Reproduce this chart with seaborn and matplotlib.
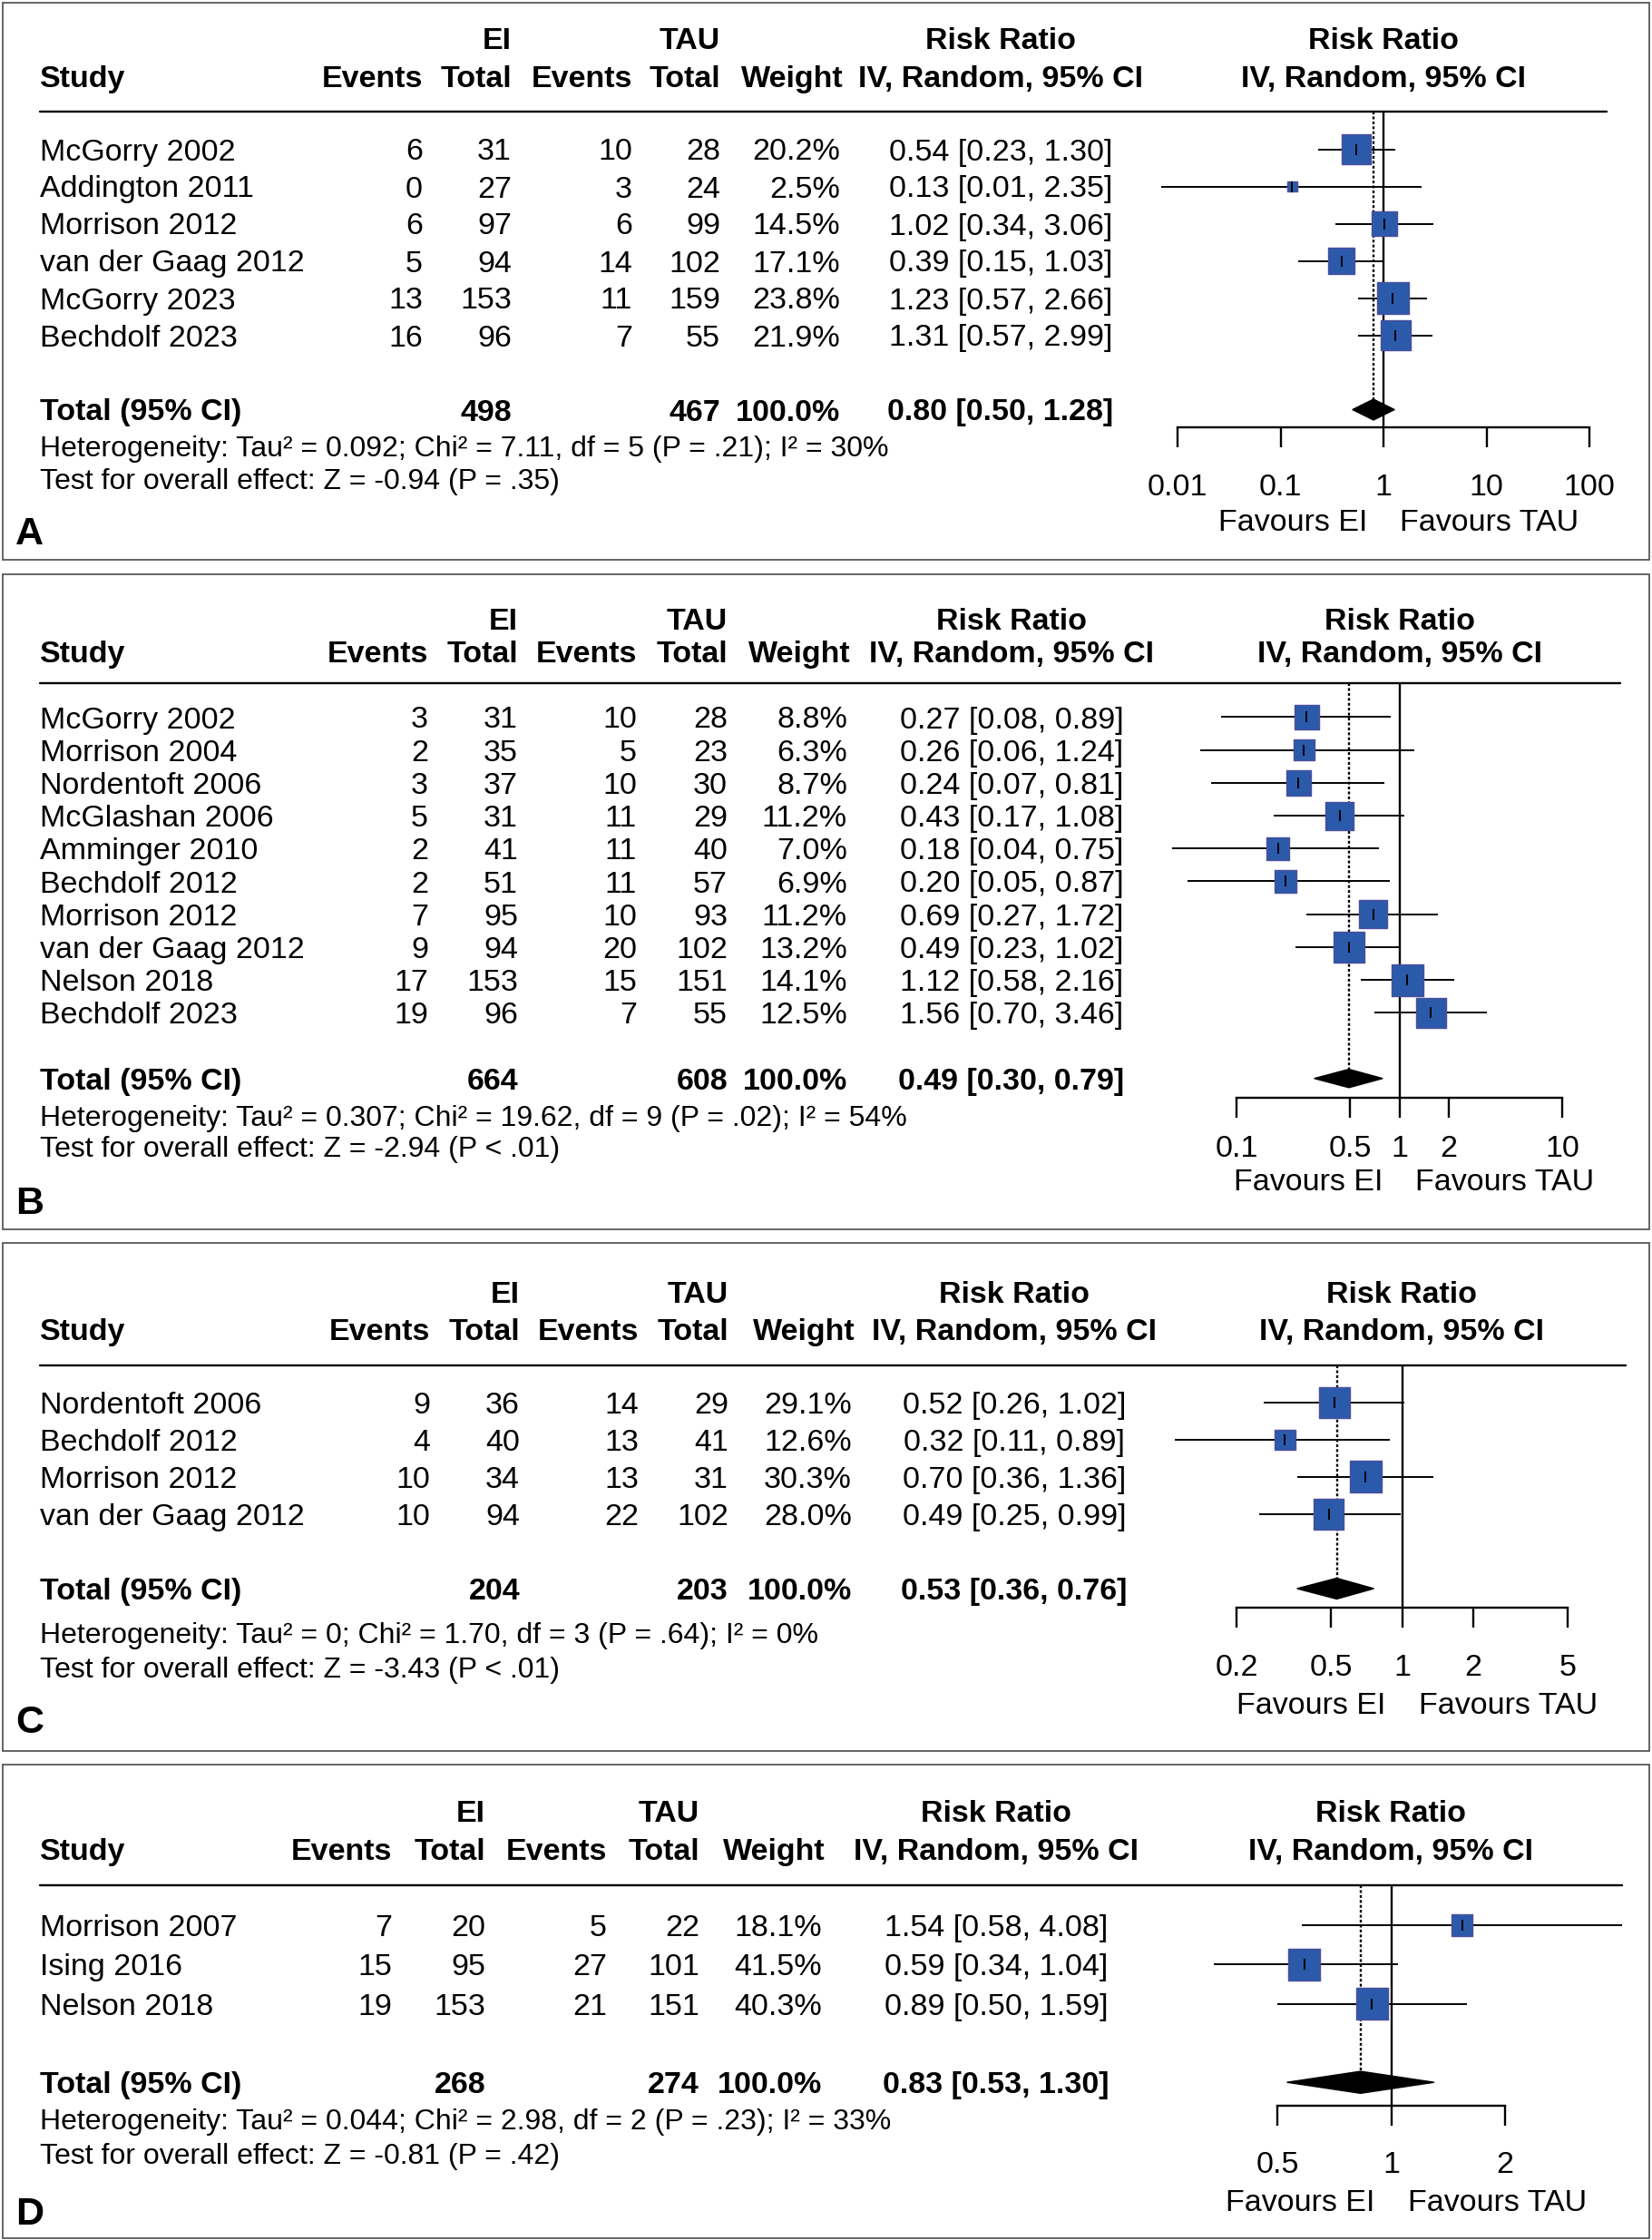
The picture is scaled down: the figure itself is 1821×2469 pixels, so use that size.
import numpy as np
import seaborn as sns
import matplotlib.pyplot as plt
from matplotlib import transforms
from matplotlib.patches import Rectangle
from matplotlib.lines import Line2D
from matplotlib.ticker import NullLocator

sns.set_style("white")
plt.rcParams["font.family"] = ["Liberation Sans", "DejaVu Sans"]

W, H, DPI = 1821, 2469, 100
FS = 24.5
TXT_DY = 3.5  # small downward nudge so glyph centres sit on the row

# ---------------- data ----------------
a_study = ["McGorry 2002", "Addington 2011", "Morrison 2012", "van der Gaag 2012",
           "McGorry 2023", "Bechdolf 2023"]
a_ev_ei = [6, 0, 6, 5, 13, 16]
a_n_ei = [31, 27, 97, 94, 153, 96]
a_ev_tau = [10, 3, 6, 14, 11, 7]
a_n_tau = [28, 24, 99, 102, 159, 55]
a_weight = [20.2, 2.5, 14.5, 17.1, 23.8, 21.9]
a_rr = [0.54, 0.13, 1.02, 0.39, 1.23, 1.31]
a_lo = [0.23, 0.007, 0.34, 0.15, 0.57, 0.57]
a_hi = [1.30, 2.35, 3.06, 1.03, 2.66, 2.99]
a_total = [0.80, 0.50, 1.28]
a_sums = [498, 467]
a_het = "Heterogeneity: Tau² = 0.092; Chi² = 7.11, df = 5 (P = .21); I² = 30%"
a_test = "Test for overall effect: Z = -0.94 (P = .35)"
a_ticks = [0.01, 0.1, 1, 10, 100]

b_study = ["McGorry 2002", "Morrison 2004", "Nordentoft 2006", "McGlashan 2006",
           "Amminger 2010", "Bechdolf 2012", "Morrison 2012", "van der Gaag 2012",
           "Nelson 2018", "Bechdolf 2023"]
b_ev_ei = [3, 2, 3, 5, 2, 2, 7, 9, 17, 19]
b_n_ei = [31, 35, 37, 31, 41, 51, 95, 94, 153, 96]
b_ev_tau = [10, 5, 10, 11, 11, 11, 10, 20, 15, 7]
b_n_tau = [28, 23, 30, 29, 40, 57, 93, 102, 151, 55]
b_weight = [8.8, 6.3, 8.7, 11.2, 7.0, 6.9, 11.2, 13.2, 14.1, 12.5]
b_rr = [0.27, 0.26, 0.24, 0.43, 0.18, 0.20, 0.69, 0.49, 1.12, 1.56]
b_lo = [0.08, 0.06, 0.07, 0.17, 0.04, 0.05, 0.27, 0.23, 0.58, 0.70]
b_hi = [0.89, 1.24, 0.81, 1.08, 0.75, 0.87, 1.72, 1.02, 2.16, 3.46]
b_total = [0.49, 0.30, 0.79]
b_sums = [664, 608]
b_het = "Heterogeneity: Tau² = 0.307; Chi² = 19.62, df = 9 (P = .02); I² = 54%"
b_test = "Test for overall effect: Z = -2.94 (P < .01)"
b_ticks = [0.1, 0.5, 1, 2, 10]

c_study = ["Nordentoft 2006", "Bechdolf 2012", "Morrison 2012", "van der Gaag 2012"]
c_ev_ei = [9, 4, 10, 10]
c_n_ei = [36, 40, 34, 94]
c_ev_tau = [14, 13, 13, 22]
c_n_tau = [29, 41, 31, 102]
c_weight = [29.1, 12.6, 30.3, 28.0]
c_rr = [0.52, 0.32, 0.70, 0.49]
c_lo = [0.26, 0.11, 0.36, 0.25]
c_hi = [1.02, 0.89, 1.36, 0.99]
c_total = [0.53, 0.36, 0.76]
c_sums = [204, 203]
c_het = "Heterogeneity: Tau² = 0; Chi² = 1.70, df = 3 (P = .64); I² = 0%"
c_test = "Test for overall effect: Z = -3.43 (P < .01)"
c_ticks = [0.2, 0.5, 1, 2, 5]

d_study = ["Morrison 2007", "Ising 2016", "Nelson 2018"]
d_ev_ei = [7, 15, 19]
d_n_ei = [20, 95, 153]
d_ev_tau = [5, 27, 21]
d_n_tau = [22, 101, 151]
d_weight = [18.1, 41.5, 40.3]
d_rr = [1.54, 0.59, 0.89]
d_lo = [0.58, 0.34, 0.50]
d_hi = [4.08, 1.04, 1.59]
d_total = [0.83, 0.53, 1.30]
d_sums = [268, 274]
d_het = "Heterogeneity: Tau² = 0.044; Chi² = 2.98, df = 2 (P = .23); I² = 33%"
d_test = "Test for overall effect: Z = -0.81 (P = .42)"
d_ticks = [0.5, 1, 2]

# ---------------- layout (pixels, top-left origin) ----------------
LAYOUT = {
    "A": dict(box=(3, 617), h1=42, h2=84, line=123, rows=(164.5, 41), het=491, test=528,
              lab=586, axis=471, tlab=534, fav=573, cols=(466, 564, 697, 794, 926, 1103),
              fx=(1250, 1771), cal=(1298, 1752)),
    "B": dict(box=(633, 1355), h1=682, h2=718, line=753, rows=(790.5, 36.2), het=1229, test=1263,
              lab=1323, axis=1210, tlab=1263, fav=1300, cols=(472, 571, 702, 802, 934, 1115),
              fx=(1250, 1786), cal=(1363, 1722)),
    "C": dict(box=(1370, 1930), h1=1424, h2=1465, line=1505, rows=(1546, 41), het=1799, test=1837,
              lab=1895, axis=1772, tlab=1835, fav=1877, cols=(474, 573, 704, 803, 939, 1118),
              fx=(1250, 1792), cal=(1363, 1728)),
    "D": dict(box=(1945, 2467), h1=1996, h2=2038, line=2078, rows=(2122, 43.3), het=2336, test=2374,
              lab=2437, axis=2321, tlab=2383, fav=2425, cols=(432, 535, 669, 771, 906, 1098),
              fx=(1250, 1788), cal=(1408, 1659)),
}

fig = plt.figure(figsize=(W / DPI, H / DPI), dpi=DPI)
px = transforms.Affine2D().scale(1 / W, -1 / H).translate(0, 1) + fig.transFigure


def put(x, y, s, ha="left", bold=False, size=FS):
    fig.text(x, y + TXT_DY, s, transform=px, ha=ha, va="center", fontsize=size,
             fontweight="bold" if bold else "normal", color="black")


def rr_text(r, lo, hi):
    return f"{r:.2f} [{lo:.2f}, {hi:.2f}]"


def panel(label, study, ev_ei, n_ei, ev_tau, n_tau, weight, rr, lo, hi, total, sums, het, test, ticks):
    L = LAYOUT[label]
    top, bot = L["box"]
    y0, dy = L["rows"]
    ev1, tot1, ev2, tot2, wt, rrc = L["cols"]
    n = len(study)

    def row(ypx):
        return (ypx - y0) / dy

    # frame
    fig.add_artist(Rectangle((3, top), W - 6, bot - top, transform=px, fill=False,
                             ec="#4a4a4a", lw=1.2))

    # forest axes with log scale calibrated on the outer ticks
    xl, xr = L["fx"]
    ax = fig.add_axes([xl / W, 1 - bot / H, (xr - xl) / W, (bot - top) / H])
    ax.patch.set_visible(False)
    p1, p2 = L["cal"]
    lt1, lt2 = np.log10(ticks[0]), np.log10(ticks[-1])
    s = (p2 - p1) / (lt2 - lt1)
    p_one = p1 - s * lt1

    rows = np.arange(n)
    wmax = max(weight)
    side_pt = 35 * np.sqrt(np.array(weight) / wmax) * 72 / DPI

    ax.hlines(rows, lo, hi, color="black", lw=1.4, zorder=2)
    sns.scatterplot(x=rr, y=rows, marker="s", s=side_pt ** 2, color="#2B5AAB",
                    edgecolor="#4B4F9C", linewidth=1.0, ax=ax, legend=False, zorder=3)
    ax.plot(rr, rows, ls="none", marker="|", ms=8.5, mew=1.4, color="black", zorder=4)

    r_tot = n + 1
    est, tlo, thi = total
    hh = 0.28
    ax.fill([tlo, est, thi, est], [r_tot, r_tot - hh, r_tot, r_tot + hh], color="black", zorder=3)
    ax.vlines(1, row(L["line"]), row(L["axis"]), color="black", lw=1.7, zorder=1)
    ax.vlines(est, row(L["line"]), r_tot, color="black", lw=1.7, linestyles=(0, (1.3, 1.0)), zorder=1)

    ax.set_xscale("log")
    ax.set_xlim(10 ** (lt1 + (xl - p1) / s), 10 ** (lt1 + (xr - p1) / s))
    ax.set_ylim(row(bot), row(top))
    for sp in ["top", "left", "right"]:
        ax.spines[sp].set_visible(False)
    ax.spines["bottom"].set_position(("data", row(L["axis"])))
    ax.spines["bottom"].set_bounds(ticks[0], ticks[-1])
    ax.spines["bottom"].set_linewidth(1.7)
    ax.spines["bottom"].set_color("black")
    ax.set_xticks(ticks)
    ax.set_xticklabels([f"{t:g}" for t in ticks])
    ax.xaxis.set_minor_locator(NullLocator())
    ax.set_yticks([])
    ax.set_xlabel("")
    ax.set_ylabel("")
    tick_len = 22
    pad = (L["tlab"] - 12 - L["axis"] - tick_len) * 72 / DPI
    ax.tick_params(axis="x", direction="out", length=tick_len * 72 / DPI, width=1.7,
                   color="black", pad=pad, labelsize=FS, labelcolor="black", bottom=True)

    # header line
    fig.add_artist(Line2D([44, xr], [L["line"], L["line"]], transform=px, color="black", lw=1.7))

    # headers
    put(tot1, L["h1"], "EI", ha="right", bold=True)
    put(tot2, L["h1"], "TAU", ha="right", bold=True)
    put(rrc, L["h1"], "Risk Ratio", ha="center", bold=True)
    put(p_one, L["h1"], "Risk Ratio", ha="center", bold=True)
    put(44, L["h2"], "Study", bold=True)
    put(ev1, L["h2"], "Events", ha="right", bold=True)
    put(tot1, L["h2"], "Total", ha="right", bold=True)
    put(ev2, L["h2"], "Events", ha="right", bold=True)
    put(tot2, L["h2"], "Total", ha="right", bold=True)
    put(wt + 4, L["h2"], "Weight", ha="right", bold=True)
    put(rrc, L["h2"], "IV, Random, 95% CI", ha="center", bold=True)
    put(p_one, L["h2"], "IV, Random, 95% CI", ha="center", bold=True)

    # study rows
    for i in range(n):
        y = y0 + i * dy
        put(44, y, study[i])
        put(ev1, y, str(ev_ei[i]), ha="right")
        put(tot1, y, str(n_ei[i]), ha="right")
        put(ev2, y, str(ev_tau[i]), ha="right")
        put(tot2, y, str(n_tau[i]), ha="right")
        put(wt, y, f"{weight[i]:.1f}%", ha="right")
        put(rrc, y, rr_text(rr[i], lo[i], hi[i]), ha="center")

    yt = y0 + r_tot * dy
    put(44, yt, "Total (95% CI)", bold=True)
    put(tot1, yt, str(sums[0]), ha="right", bold=True)
    put(tot2, yt, str(sums[1]), ha="right", bold=True)
    put(wt, yt, "100.0%", ha="right", bold=True)
    put(rrc, yt, rr_text(*total), ha="center", bold=True)
    put(44, L["het"], het, size=23)
    put(44, L["test"], test, size=23)
    put(17, L["lab"], label, bold=True, size=31)

    put(p_one - 18, L["fav"], "Favours EI", ha="right")
    put(p_one + 18, L["fav"], "Favours TAU", ha="left")


panel("A", a_study, a_ev_ei, a_n_ei, a_ev_tau, a_n_tau, a_weight, a_rr, a_lo, a_hi,
      a_total, a_sums, a_het, a_test, a_ticks)
panel("B", b_study, b_ev_ei, b_n_ei, b_ev_tau, b_n_tau, b_weight, b_rr, b_lo, b_hi,
      b_total, b_sums, b_het, b_test, b_ticks)
panel("C", c_study, c_ev_ei, c_n_ei, c_ev_tau, c_n_tau, c_weight, c_rr, c_lo, c_hi,
      c_total, c_sums, c_het, c_test, c_ticks)
panel("D", d_study, d_ev_ei, d_n_ei, d_ev_tau, d_n_tau, d_weight, d_rr, d_lo, d_hi,
      d_total, d_sums, d_het, d_test, d_ticks)

fig.savefig("out.png", dpi=DPI, facecolor="white")
